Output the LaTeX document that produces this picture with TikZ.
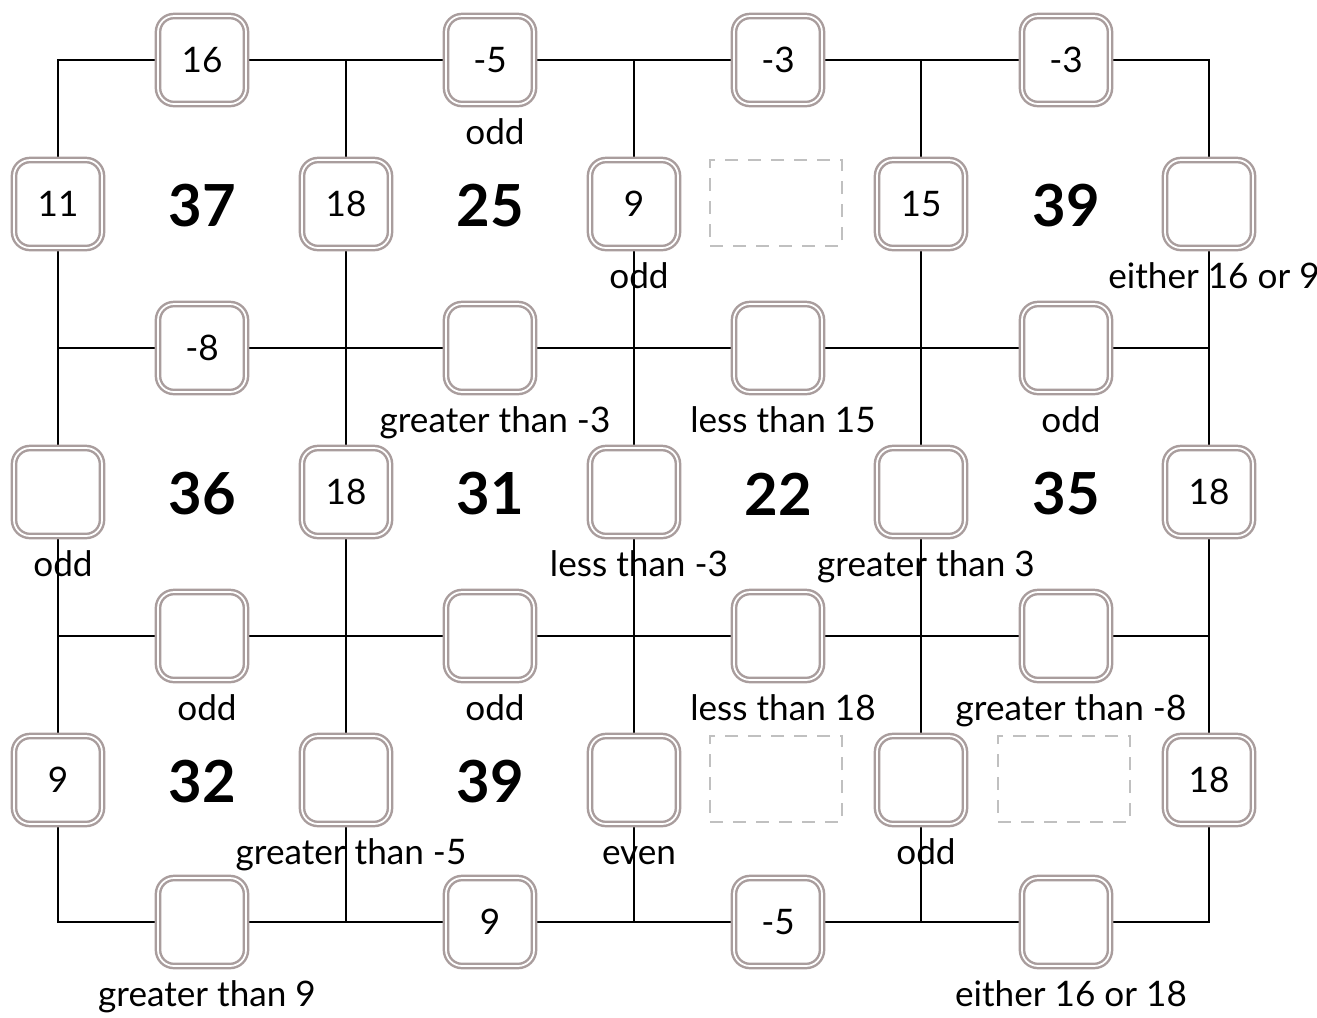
\documentclass[tikz,border=0pt]{standalone}
\usepackage{fontspec}
\setmainfont{Lato}
\usetikzlibrary{backgrounds}
\definecolor{boxrim}{RGB}{169,157,157}
\definecolor{ghost}{RGB}{192,192,192}
\tikzset{
    puzzle grid/.style = {x=0.1mm, y=-0.1mm},
    wire/.style        = {line width=0.6pt},
    cellbox/.style     = {draw=boxrim, double=white, line width=0.7pt,
                          double distance=0.5pt, fill=white,
                          rounded corners=1.6mm, minimum size=8.8mm,
                          inner sep=0pt,
                          font=\fontsize{10}{12}\selectfont},
    hintlab/.style     = {inner sep=0pt, text height=2.5mm, text depth=0pt,
                          xshift=0.5mm, yshift=-7.15mm,
                          font=\fontsize{10}{12}\selectfont},
    hint/.style        = {label={[hintlab]center:#1}},
    sumtext/.style     = {font=\fontsize{16.5}{20}\selectfont\bfseries},
    ghostbox/.style    = {draw=ghost, line width=0.6pt,
                          dash pattern=on 1.3mm off 1mm,
                          minimum width=13.2mm, minimum height=8.6mm}
}

\begin{document}
\begin{tikzpicture}[puzzle grid]
\useasboundingbox (0,0) rectangle (1317,1017);

% ================= Top rail =================
\node[cellbox] (h-0-1) at (202,60) {16};
\node[cellbox, hint=odd] (h-0-2) at (490,60) {-5};
\node[cellbox] (h-0-3) at (778,60) {-3};
\node[cellbox] (h-0-4) at (1066,60) {-3};

% ================= Row 1 =================
\node[cellbox] (v-1-0) at (58,204) {11};
\node[sumtext] (s-1-1) at (202,206) {37};
\node[cellbox] (v-1-1) at (346,204) {18};
\node[sumtext] (s-1-2) at (490,206) {25};
\node[cellbox, hint=odd] (v-1-2) at (634,204) {9};
\node[ghostbox] (s-1-3) at (776,203) {};
\node[cellbox] (v-1-3) at (921,204) {15};
\node[sumtext] (s-1-4) at (1066,206) {39};
\node[cellbox, hint={either 16 or 9}] (v-1-4) at (1209,204) {};

% ================= Rail 1 =================
\node[cellbox] (h-1-1) at (202,348) {-8};
\node[cellbox, hint={greater than -3}] (h-1-2) at (490,348) {};
\node[cellbox, hint={less than 15}] (h-1-3) at (778,348) {};
\node[cellbox, hint=odd] (h-1-4) at (1066,348) {};

% ================= Row 2 =================
\node[cellbox, hint=odd] (v-2-0) at (58,492) {};
\node[sumtext] (s-2-1) at (202,494) {36};
\node[cellbox] (v-2-1) at (346,492) {18};
\node[sumtext] (s-2-2) at (490,494) {31};
\node[cellbox, hint={less than -3}] (v-2-2) at (634,492) {};
\node[sumtext] (s-2-3) at (778,494) {22};
\node[cellbox, hint={greater than 3}] (v-2-3) at (921,492) {};
\node[sumtext] (s-2-4) at (1066,494) {35};
\node[cellbox] (v-2-4) at (1209,492) {18};

% ================= Rail 2 =================
\node[cellbox, hint=odd] (h-2-1) at (202,636) {};
\node[cellbox, hint=odd] (h-2-2) at (490,636) {};
\node[cellbox, hint={less than 18}] (h-2-3) at (778,636) {};
\node[cellbox, hint={greater than -8}] (h-2-4) at (1066,636) {};

% ================= Row 3 =================
\node[cellbox] (v-3-0) at (58,780) {9};
\node[sumtext] (s-3-1) at (202,782) {32};
\node[cellbox, hint={greater than -5}] (v-3-1) at (346,780) {};
\node[sumtext] (s-3-2) at (490,782) {39};
\node[cellbox, hint=even] (v-3-2) at (634,780) {};
\node[ghostbox] (s-3-3) at (776,779) {};
\node[cellbox, hint=odd] (v-3-3) at (921,780) {};
\node[ghostbox] (s-3-4) at (1064,779) {};
\node[cellbox] (v-3-4) at (1209,780) {18};

% ================= Bottom rail =================
\node[cellbox, hint={greater than 9}] (h-3-1) at (202,922) {};
\node[cellbox] (h-3-2) at (490,922) {9};
\node[cellbox] (h-3-3) at (778,922) {-5};
\node[cellbox, hint={either 16 or 18}] (h-3-4) at (1066,922) {};

% ================= Grid lines =================
\begin{scope}[on background layer]
\coordinate (nw) at (58,60);
\coordinate (se) at (1209,922);
\draw[wire] (nw) rectangle (se);
\draw[wire] (v-1-1 |- nw) -- (v-1-1 |- se);
\draw[wire] (v-1-2 |- nw) -- (v-1-2 |- se);
\draw[wire] (v-1-3 |- nw) -- (v-1-3 |- se);
\draw[wire] (nw |- h-1-1) -- (se |- h-1-1);
\draw[wire] (nw |- h-2-1) -- (se |- h-2-1);
\end{scope}

\end{tikzpicture}
\end{document}
